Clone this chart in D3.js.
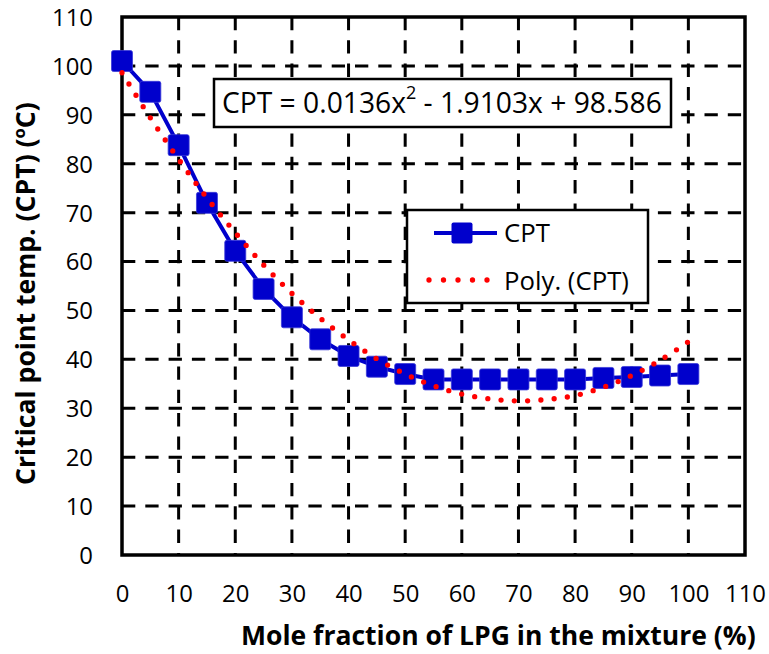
<!DOCTYPE html>
<html>
<head>
<meta charset="utf-8">
<script src="https://cdn.jsdelivr.net/npm/d3@7"></script>
<style>
  html, body { margin: 0; padding: 0; background: #fff; }
  svg { display: block; }
</style>
</head>
<body>
<svg id="chart" width="769" height="654"></svg>
<script>
// ---- data ----
const molePct = [0, 5, 10, 15, 20, 25, 30, 35, 40, 45, 50, 55, 60, 65, 70, 75, 80, 85, 90, 95, 100];
const cptValues = [101, 94.7, 83.8, 72.0, 62.2, 54.4, 48.6, 44.1, 40.7, 38.5, 37.0, 35.9, 35.9, 35.9, 35.9, 35.9, 35.9, 36.2, 36.4, 36.7, 37.0];
const polyValues = [98.6, 89.4, 80.9, 73.0, 65.9, 59.3, 53.5, 48.4, 44.0, 40.1, 37.0, 34.6, 32.9, 31.9, 31.5, 31.8, 32.6, 34.3, 36.7, 39.8, 43.6];
const xTicks = [0, 10, 20, 30, 40, 50, 60, 70, 80, 90, 100, 110];
const yTicks = [0, 10, 20, 30, 40, 50, 60, 70, 80, 90, 100, 110];
const xTitle = "Mole fraction of LPG in the mixture (%)";
const yTitle = "Critical point temp. (CPT) (";
const eqMain = "CPT = 0.0136x";
const eqSup = "2";
const eqRest = " - 1.9103x + 98.586";
const legendLabels = ["CPT", "Poly. (CPT)"];

// ---- layout ----
const FONT = "'Open Sans', 'Noto Sans', sans-serif";
const svg = d3.select("#chart");
const x = d3.scaleLinear().domain([0, 110]).range([122, 745]);
const y = d3.scaleLinear().domain([0, 110]).range([555, 17]);
const BLUE = "#0000CC", RED = "#FF0000";

// scale a text (and its sized tspans) so its width equals target
function fitWidth(sel, target) {
  const w = sel.node().getComputedTextLength();
  const k = target / w;
  sel.attr("font-size", parseFloat(sel.attr("font-size")) * k);
  sel.selectAll("tspan").each(function () {
    const t = d3.select(this);
    if (t.attr("font-size")) t.attr("font-size", parseFloat(t.attr("font-size")) * k);
    if (t.attr("dy")) t.attr("dy", parseFloat(t.attr("dy")) * k);
  });
  return k;
}

// gridlines
const grid = svg.append("g");
grid.selectAll("line.h").data(yTicks.slice(1, -1)).join("line")
  .attr("x1", x(0)).attr("x2", x(110))
  .attr("y1", d => y(d)).attr("y2", d => y(d))
  .attr("stroke", "#000").attr("stroke-width", 3)
  .attr("stroke-dasharray", "13.3 10");
grid.selectAll("line.v").data(xTicks.slice(1, -1)).join("line")
  .attr("x1", d => x(d)).attr("x2", d => x(d))
  .attr("y1", y(110)).attr("y2", y(0))
  .attr("stroke", "#000").attr("stroke-width", 3)
  .attr("stroke-dasharray", "13.3 10");

// plot border
svg.append("rect")
  .attr("x", x(0)).attr("y", y(110))
  .attr("width", x(110) - x(0)).attr("height", y(0) - y(110))
  .attr("fill", "none").attr("stroke", "#000").attr("stroke-width", 3.5);

// tick font size: "100" should be about 41px wide
const probe = svg.append("text").attr("font-family", FONT).attr("font-size", 24).text("100");
const tickFs = 24 * 41 / probe.node().getComputedTextLength();
probe.remove();

// axes tick labels
const xAxis = d3.axisBottom(x).tickValues(xTicks).tickSize(0).tickPadding(0).tickFormat(d3.format("d"));
const gx = svg.append("g").attr("transform", `translate(0,${y(0)})`).call(xAxis);
gx.select(".domain").remove();
gx.selectAll("text").attr("font-family", FONT).attr("font-size", tickFs).attr("fill", "#000")
  .attr("dy", null).attr("y", 47);

const yAxis = d3.axisLeft(y).tickValues(yTicks).tickSize(0).tickPadding(0).tickFormat(d3.format("d"));
const gy = svg.append("g").attr("transform", `translate(93,0)`).call(yAxis);
gy.select(".domain").remove();
gy.selectAll("text").attr("font-family", FONT).attr("font-size", tickFs).attr("fill", "#000")
  .attr("dy", "0.35em");

// series CPT
const pts = molePct.map((m, i) => [m, cptValues[i]]);
svg.append("path")
  .attr("d", d3.line().x(d => x(d[0])).y(d => y(d[1]))(pts))
  .attr("fill", "none").attr("stroke", BLUE).attr("stroke-width", 4);
const MS = 21;
svg.selectAll("rect.mk").data(pts).join("rect")
  .attr("x", d => x(d[0]) - MS / 2).attr("y", d => y(d[1]) - MS / 2)
  .attr("width", MS).attr("height", MS).attr("rx", 2)
  .attr("fill", BLUE).attr("stroke", "#3a3ad8").attr("stroke-width", 0.8);

// trend (poly)
const polyPts = molePct.map((m, i) => [m, polyValues[i]]);
svg.append("path")
  .attr("d", d3.line().x(d => x(d[0])).y(d => y(d[1])).curve(d3.curveCatmullRom)(polyPts))
  .attr("fill", "none").attr("stroke", RED).attr("stroke-width", 5.3)
  .attr("stroke-linecap", "round").attr("stroke-dasharray", "0 13.3");

// equation box
svg.append("rect").attr("x", 214).attr("y", 79).attr("width", 457).attr("height", 48)
  .attr("fill", "#fff").attr("stroke", "#000").attr("stroke-width", 2.5);
const eq = svg.append("text").attr("x", 222).attr("y", 113)
  .attr("font-family", FONT).attr("font-size", 25).attr("fill", "#000");
eq.append("tspan").text(eqMain);
eq.append("tspan").attr("font-size", 16).attr("dy", -12).text(eqSup);
eq.append("tspan").attr("dy", 12).text(eqRest);
fitWidth(eq, 440);

// legend
const lg = svg.append("g");
lg.append("rect").attr("x", 407).attr("y", 210).attr("width", 241).attr("height", 93)
  .attr("fill", "#fff").attr("stroke", "#000").attr("stroke-width", 2.5);
lg.append("line").attr("x1", 434).attr("x2", 497).attr("y1", 233).attr("y2", 233)
  .attr("stroke", BLUE).attr("stroke-width", 4);
lg.append("rect").attr("x", 462 - MS / 2).attr("y", 233 - MS / 2).attr("width", MS).attr("height", MS)
  .attr("rx", 2).attr("fill", BLUE);
lg.append("line").attr("x1", 429).attr("x2", 488).attr("y1", 280).attr("y2", 280)
  .attr("stroke", RED).attr("stroke-width", 5.3).attr("stroke-linecap", "round")
  .attr("stroke-dasharray", "0 14.5");
const l1 = lg.append("text").attr("x", 504).attr("y", 242).attr("font-family", FONT)
  .attr("font-size", 25).text(legendLabels[0]);
const l2 = lg.append("text").attr("x", 504).attr("y", 290).attr("font-family", FONT)
  .attr("font-size", 25).text(legendLabels[1]);
fitWidth(l2, 125);
l1.attr("font-size", l2.attr("font-size"));

// axis titles
const xt = svg.append("text").attr("x", 241).attr("y", 645)
  .attr("font-family", FONT).attr("font-weight", "bold").attr("font-size", 24).text(xTitle);
fitWidth(xt, 515);

const yt = svg.append("text").attr("transform", "translate(35,485) rotate(-90)")
  .attr("font-family", FONT).attr("font-weight", "bold")
  .attr("font-size", 24);
yt.append("tspan").text(yTitle);
yt.append("tspan").attr("font-size", 15).attr("dy", -9).text("o");
yt.append("tspan").attr("dy", 9).text("C)");
fitWidth(yt, 383);
</script>
</body>
</html>
